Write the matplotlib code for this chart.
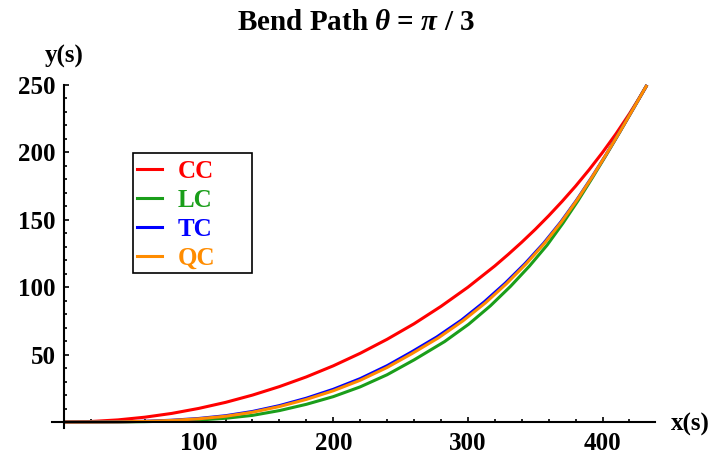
import matplotlib
matplotlib.use('Agg')
import matplotlib.pyplot as plt
from matplotlib.ticker import FixedLocator
from matplotlib.lines import Line2D
from matplotlib.patches import Rectangle

plt.rcParams['mathtext.fontset'] = 'custom'
plt.rcParams['mathtext.it'] = 'Liberation Serif:italic:bold'
plt.rcParams['mathtext.rm'] = 'Liberation Serif:bold'

# values
x_cc = [0, 20, 40, 60, 80, 100, 120, 140, 160, 180, 200, 220, 240, 260, 280,
        300, 320, 330, 340, 350, 360, 370, 380, 390, 400, 410, 420, 427, 433]
y_cc = [0, 0.4, 1.6, 3.6, 6.4, 10.1, 14.6, 20.0, 26.3, 33.5, 41.7, 51.0, 61.4,
        72.9, 85.8, 100.0, 115.8, 124.4, 133.4, 142.9, 153.0, 163.7, 175.0,
        187.1, 200.0, 213.8, 228.7, 239.9, 250.0]

x_lc = [0, 20, 40, 60, 80, 100, 120, 140, 160, 180, 200, 220, 240, 260, 282.7,
        300.5, 316.7, 331.7, 345.7, 358.8, 370.6, 381.8, 392.4, 402.8, 413.0,
        423.0, 433.0]
y_lc = [0, 0.01, 0.08, 0.3, 0.75, 1.5, 2.8, 4.95, 8.5, 13.15, 18.85, 26.1, 35.1,
        46.1, 59.7, 72.5, 86.2, 100.7, 115.7, 131.2, 147.5, 164.2, 181.1, 198.2,
        215.4, 232.7, 250.0]

x_tc = [0, 20, 40, 60, 80, 100, 120, 140, 160, 180, 200, 220, 240, 258, 276.9,
        295.2, 312.0, 327.7, 342.5, 356.3, 369.0, 380.8, 391.9, 402.6, 412.9,
        423.0, 433.0]
y_tc = [0, 0.02, 0.17, 0.56, 1.35, 2.65, 4.7, 7.85, 12.2, 17.7, 24.3, 32.2, 41.8,
        51.9, 63.1, 75.6, 89.0, 103.0, 117.6, 132.7, 148.4, 164.7, 181.4, 198.3,
        215.5, 232.7, 250.0]

x_qc = [0, 20, 40, 60, 80, 100, 120, 140, 160, 180, 200, 220, 240, 258.5, 278.0,
        296.2, 313.0, 328.5, 343.1, 356.7, 369.3, 381.0, 392.0, 402.6, 412.9,
        423.0, 433.0]
y_qc = [0, 0.02, 0.15, 0.5, 1.2, 2.4, 4.3, 7.3, 11.5, 16.8, 23.2, 31.0, 40.5,
        50.8, 62.4, 75.0, 88.4, 102.5, 117.2, 132.4, 148.2, 164.6, 181.3, 198.3,
        215.4, 232.7, 250.0]

labels = ['CC', 'LC', 'TC', 'QC']
colors = ['#ff0000', '#1a9e1a', '#0000ff', '#ff8c00']

x_major = [100, 200, 300, 400]
x_minor = [20, 40, 60, 80, 120, 140, 160, 180, 220, 240, 260, 280, 320, 340,
           360, 380, 420]
y_major = [50, 100, 150, 200, 250]
y_minor = [v for v in range(10, 250, 10) if v % 50 != 0]

W, H = 713, 457
fig = plt.figure(figsize=(W/100., H/100.), dpi=100)
ax = fig.add_axes([0.0728, 0.0632, 0.8459, 0.7508])

serif = ['Liberation Serif', 'DejaVu Serif']
curves = [(x_cc, y_cc), (x_lc, y_lc), (x_tc, y_tc), (x_qc, y_qc)]
for (xs, ys), c, lab in zip(curves, colors, labels):
    ax.plot(xs, ys, color=c, lw=2.2, label=lab, solid_joinstyle='round',
            solid_capstyle='butt', clip_on=False)

ax.set_xlim(-9, 439)
ax.set_ylim(-4.5, 250)
for s in ['top', 'right']:
    ax.spines[s].set_visible(False)
ax.spines['left'].set_position(('data', 0))
ax.spines['bottom'].set_position(('data', 0))
for s in ['left', 'bottom']:
    ax.spines[s].set_linewidth(1.5)
    ax.spines[s].set_zorder(5)

ax.xaxis.set_major_locator(FixedLocator(x_major))
ax.xaxis.set_minor_locator(FixedLocator(x_minor))
ax.yaxis.set_major_locator(FixedLocator(y_major))
ax.yaxis.set_minor_locator(FixedLocator(y_minor))
ax.tick_params(which='major', direction='in', length=3.5, width=1.2)
ax.tick_params(which='minor', direction='in', length=2.0, width=1.2)
ax.tick_params(axis='y', which='major', pad=6)
ax.tick_params(axis='x', which='major', pad=7)
for t in ax.get_xticklabels() + ax.get_yticklabels():
    t.set_family(serif)
    t.set_fontweight('bold')
    t.set_fontsize(18)

fig.text(356/W, 1 - 22/H, r'Bend Path $\theta$ = $\pi$ / 3', ha='center', va='center',
         family=serif, fontweight='bold', fontsize=21)
fig.text(64/W, 1 - 56/H, 'y(s)', ha='center', va='center', family=serif,
         fontweight='bold', fontsize=18)
fig.text(671/W, 1 - 424/H, 'x(s)', ha='left', va='center', family=serif,
         fontweight='bold', fontsize=18)

# legend: frame drawn by hand, Mathematica-style wide box
fig.patches.append(Rectangle((133/W, 1 - 273/H), 119/W, 120/H, transform=fig.transFigure,
                             fill=False, edgecolor='black', lw=1.2))
handles = [Line2D([], [], color=c, lw=2.2) for c in colors]
leg = ax.legend(handles, labels, loc='upper left',
                bbox_to_anchor=(137/W, 1 - 160/H), bbox_transform=fig.transFigure,
                borderaxespad=0, frameon=False, borderpad=0,
                handlelength=1.0, handletextpad=0.62, labelspacing=0.24,
                labelcolor=colors,
                prop={'family': serif, 'weight': 'bold', 'size': 18})

fig.savefig('out.png', dpi=100)
